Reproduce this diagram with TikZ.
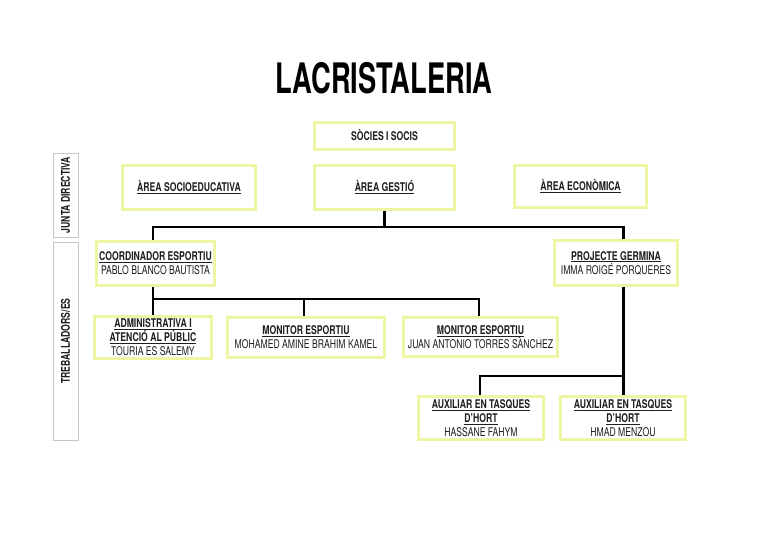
\documentclass[tikz,border=0pt]{standalone}
\usepackage{fontspec}
\setmainfont{TeX Gyre Heros}[FakeStretch=0.72]
\newfontfamily\titlefont{TeX Gyre Heros}[FakeStretch=0.65]
\definecolor{boxy}{HTML}{EEF5A3}
\definecolor{txt}{HTML}{1E1E1E}
\newcommand\hd[1]{\underline{\textbf{#1}}}
\tikzset{
  box/.style={draw=boxy, line width=3pt, fill=white, align=center, inner sep=0pt,
    font=\fontsize{12}{14}\selectfont, text=txt},
  sidebox/.style={draw=black!22, line width=0.8pt, fill=white, inner sep=0pt},
  sidetext/.style={rotate=90, font=\bfseries\fontsize{12}{12}\selectfont, text=txt, inner sep=0pt},
  link/.style={draw=black, line width=2.5pt},
}
\begin{document}
\begin{tikzpicture}[x=1pt,y=-1pt]
\useasboundingbox[fill=white] (0,0) rectangle (768,543);

\node[text=black, font=\titlefont\bfseries\fontsize{42}{42}\selectfont, inner sep=0pt] (title) at (384,78) {LACRISTALERIA};

% side labels
\node[sidebox, minimum width=25pt, minimum height=84pt] (junta) at (65.5,195) {};
\node[sidetext] (juntat) at (junta.center) {JUNTA DIRECTIVA};
\node[sidebox, minimum width=25pt, minimum height=198pt] (treb) at (65.5,341) {};
\node[sidetext] (trebt) at (treb.center) {TREBALLADORS/ES};

% boxes
\node[box, minimum width=140pt, minimum height=27pt] (soc) at (384.5,135.5) {\textbf{SÒCIES I SOCIS}};
\node[box, minimum width=133pt, minimum height=44pt] (socio) at (189,187.5) {\hd{ÀREA SOCIOEDUCATIVA}};
\node[box, minimum width=140pt, minimum height=44pt] (gestio) at (384.5,187.5) {\hd{ÀREA GESTIÓ}};
\node[box, minimum width=132pt, minimum height=42pt] (econ) at (580.5,186.5) {\hd{ÀREA ECONÒMICA}};

\node[box, minimum width=118pt, minimum height=44pt] (coord) at (155.5,263) {\hd{COORDINADOR ESPORTIU}\\PABLO BLANCO BAUTISTA};
\node[box, minimum width=123pt, minimum height=45pt] (germ) at (616,263) {\hd{PROJECTE GERMINA}\\IMMA ROIGÉ PORQUERES};

\node[box, minimum width=117pt, minimum height=42pt] (admin) at (153,337) {\hd{ADMINISTRATIVA I}\\\hd{ATENCIÓ AL PÚBLIC}\\TOURIA ES SALEMY};
\node[box, minimum width=157pt, minimum height=40pt] (mon1) at (306,337.5) {\hd{MONITOR ESPORTIU}\\MOHAMED AMINE BRAHIM KAMEL};
\node[box, minimum width=154pt, minimum height=39pt] (mon2) at (480.5,337) {\hd{MONITOR ESPORTIU}\\JUAN ANTONIO TORRES SÀNCHEZ};

\node[box, minimum width=125pt, minimum height=43pt] (aux1) at (481,418) {\hd{AUXILIAR EN TASQUES}\\\hd{D'HORT}\\HASSANE FAHYM};
\node[box, minimum width=125pt, minimum height=43pt] (aux2) at (623,418) {\hd{AUXILIAR EN TASQUES}\\\hd{D'HORT}\\HMAD MENZOU};

% junctions
\coordinate (j1) at (384.5,227);
\coordinate (j1l) at (153,227);
\coordinate (j1r) at (623.5,227);
\coordinate (j2) at (153,299);
\coordinate (j2m) at (304,299);
\coordinate (j2r) at (479,299);
\coordinate (j3) at (623.5,376);
\coordinate (j3l) at (480,376);

\draw[link] (gestio.south) -- (j1);
\draw[link] (coord.north -| j1l) -- (j1l) -- (j1r) -- (germ.north -| j1r);
\draw[link] (coord.south -| j2) -- (admin.north -| j2);
\draw[link] (j2) -- (j2r) -- (mon2.north -| j2r);
\draw[link] (j2m) -- (mon1.north -| j2m);
\draw[link] (germ.south -| j3) -- (aux2.north -| j3);
\draw[link] (j3) -- (j3l) -- (aux1.north -| j3l);
\end{tikzpicture}
\end{document}
